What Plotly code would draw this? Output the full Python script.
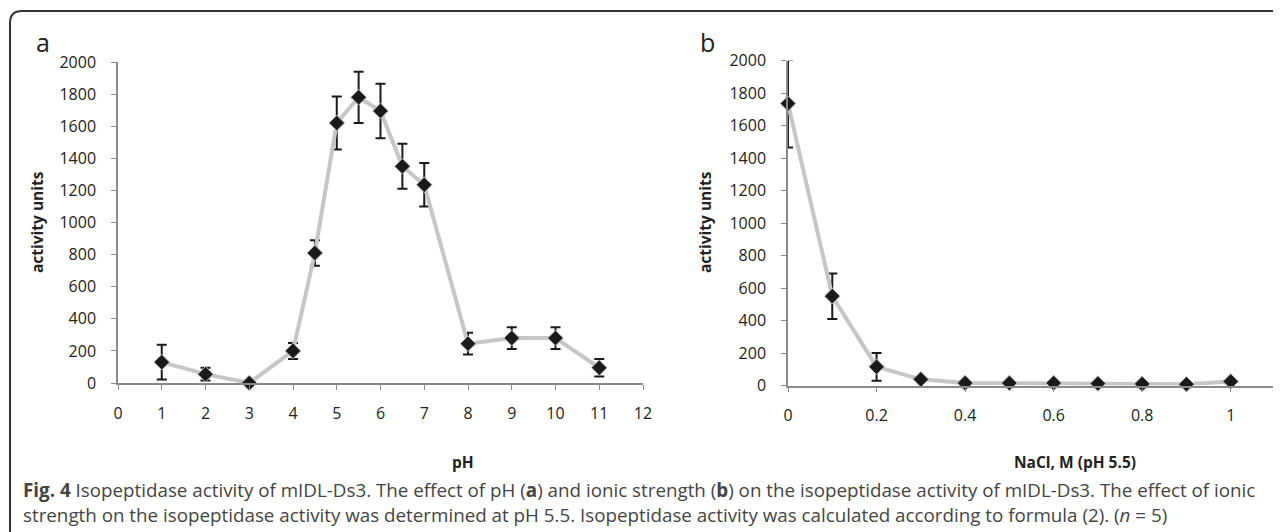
import plotly.graph_objects as go

# Panel a: pH dependence
ph = [1, 2, 3, 4, 4.5, 5, 5.5, 6, 6.5, 7, 8, 9, 10, 11]
ph_activity = [130, 55, 0, 200, 810, 1620, 1780, 1695, 1350, 1235, 245, 280, 280, 95]
ph_err = [108, 40, 0, 50, 80, 165, 160, 170, 140, 135, 68, 68, 68, 55]

# Panel b: NaCl dependence
nacl = [0, 0.1, 0.2, 0.3, 0.4, 0.5, 0.6, 0.7, 0.8, 0.9, 1.0]
nacl_activity = [1735, 550, 115, 38, 15, 15, 15, 12, 10, 8, 25]
nacl_err = [270, 140, 85, 0, 0, 0, 0, 0, 0, 0, 0]

ph_ticks = list(range(0, 13))
nacl_ticks = [0, 0.2, 0.4, 0.6, 0.8, 1]
y_ticks = list(range(0, 2001, 200))

W, H = 1281, 532
OFF = 8  # page body margin
FONT = "Open Sans"
AX = "#8a8a8a"

def px_x(p):
    return (p - OFF) / W

def px_y(p):
    return 1 - (p - OFF) / H

fig = go.Figure()

def add_series(x, y, err, xa, ya):
    fig.add_trace(go.Scatter(
        x=x, y=y, xaxis=xa, yaxis=ya, mode="lines+markers",
        line=dict(color="#c6c6c6", width=4),
        marker=dict(symbol="diamond", size=12, color="#1a1a1a",
                    line=dict(color="#bdbdbd", width=1)),
        error_y=dict(type="data", array=err, visible=True, color="#1a1a1a",
                     thickness=2, width=5),
        cliponaxis=False, showlegend=False, hoverinfo="skip",
    ))

add_series(ph, ph_activity, ph_err, "x", "y")
add_series(nacl, nacl_activity, nacl_err, "x2", "y2")

tickfont = dict(family=FONT, size=16, color="#222")
common_x = dict(showline=True, linecolor=AX, linewidth=1.5, ticks="outside",
                tickcolor=AX, ticklen=5, tickwidth=1.2, showgrid=False,
                zeroline=False, tickfont=tickfont, automargin=False,
                ticklabelstandoff=10)
common_y = dict(showline=True, linecolor=AX, linewidth=1.5, ticks="outside",
                tickcolor=AX, ticklen=5, tickwidth=1.2, showgrid=False,
                zeroline=False, tickfont=tickfont, range=[0, 2000],
                tickvals=y_ticks, automargin=False, ticklabelstandoff=12)

fig.update_layout(
    width=W, height=H, autosize=False,
    margin=dict(l=0, r=0, t=0, b=0, pad=0, autoexpand=False),
    paper_bgcolor="white", plot_bgcolor="white",
    xaxis=dict(domain=[px_x(118), px_x(643)], range=[0, 12], tickvals=ph_ticks,
               anchor="y", **common_x),
    yaxis=dict(domain=[px_y(383), px_y(62)], anchor="x", **common_y),
    xaxis2=dict(domain=[px_x(788), px_x(1275)], range=[0, 1.1], tickvals=nacl_ticks,
                anchor="y2", **common_x),
    yaxis2=dict(domain=[px_y(385.5), px_y(60.5)], anchor="x2", **common_y),
)

ann = []
def text(x, y, s, size, angle=0, xanchor="center", yanchor="middle", color="#222"):
    ann.append(dict(x=px_x(x), y=px_y(y), xref="paper", yref="paper", text=s,
                    showarrow=False, textangle=angle, xanchor=xanchor, yanchor=yanchor,
                    font=dict(family=FONT, size=size, color=color)))

text(43, 42, "a", 25)
text(707, 42, "b", 25)
text(37, 222, "<b>activity units</b>", 15.5, angle=-90)
text(705, 222, "<b>activity units</b>", 15.5, angle=-90)
text(463, 462, "<b>pH</b>", 15.5)
text(1075, 462, "<b>NaCl, M (pH 5.5)</b>", 15.5)

cap1 = ("<b>Fig. 4</b> Isopeptidase activity of mIDL-Ds3. The effect of pH (<b>a</b>) and ionic "
        "strength (<b>b</b>) on the isopeptidase activity of mIDL-Ds3. The effect of ionic")
cap2 = ("strength on the isopeptidase activity was determined at pH 5.5. Isopeptidase activity "
        "was calculated according to formula (2). (<i>n</i> = 5)")
text(21, 490, cap1, 18.8, xanchor="left", color="#444")
text(21, 515, cap2, 18.8, xanchor="left", color="#444")
fig.update_layout(annotations=ann)

# Rounded frame (top-left corner), extends beyond the visible area
r = 12
fig.add_shape(type="path", xref="paper", yref="paper",
              path=f"M {px_x(10)},{px_y(545)} L {px_x(10)},{px_y(11 + r)} "
                   f"Q {px_x(10)},{px_y(11)} {px_x(10 + r)},{px_y(11)} L {px_x(1295)},{px_y(11)}",
              line=dict(color="#333", width=2))

fig.write_html("out.html")
